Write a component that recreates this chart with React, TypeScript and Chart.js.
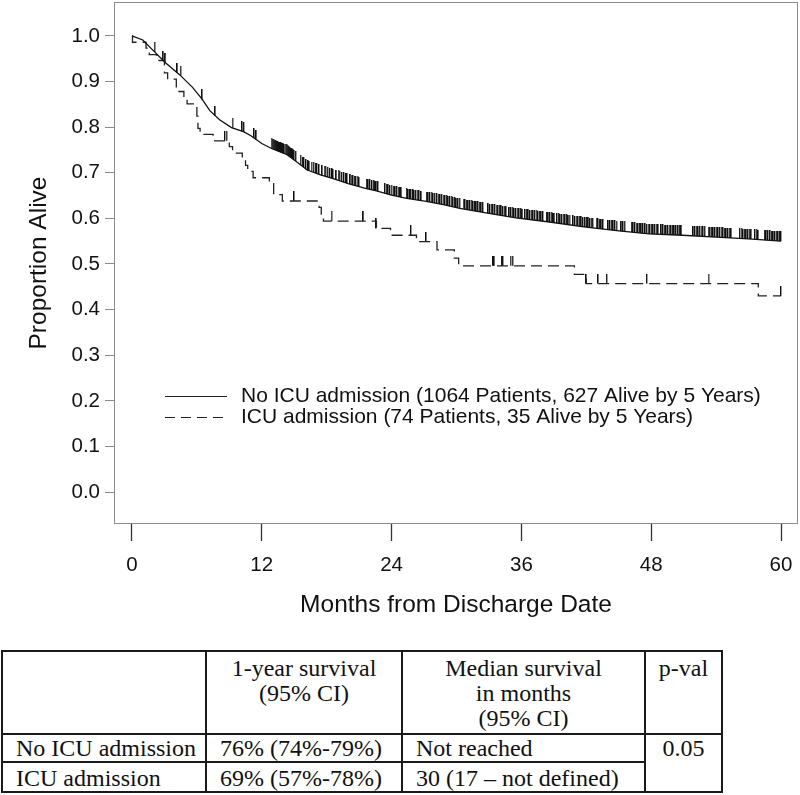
import React, { useEffect, useRef } from "react";
import { Chart, registerables } from "chart.js";

Chart.register(...registerables);

// ---- Data ----
const X_TICKS = [0, 12, 24, 36, 48, 60];
const Y_TICKS = [0, 0.1, 0.2, 0.3, 0.4, 0.5, 0.6, 0.7, 0.8, 0.9, 1.0];

// No ICU admission: Kaplan-Meier estimate (dense, nearly continuous)
const NOICU_T = [0, 1.0, 2.0, 3.1, 4.4, 5.6, 6.5, 7.2, 8.1, 9.2, 10.3, 11.0, 12.0, 13.0, 14.3, 15.0, 16.2, 17.5, 18.6, 20.0, 21.5, 22.6, 24.0, 25.4, 27.2, 28.8, 30.3, 33.0, 35.5, 38.6, 41.6, 44.8, 47.8, 50.9, 54.0, 57.0, 60.0];
const NOICU_S = [1.0, 0.991, 0.967, 0.941, 0.915, 0.887, 0.861, 0.836, 0.816, 0.799, 0.79, 0.781, 0.764, 0.752, 0.74, 0.728, 0.706, 0.695, 0.687, 0.676, 0.666, 0.66, 0.651, 0.644, 0.637, 0.63, 0.622, 0.611, 0.601, 0.592, 0.582, 0.573, 0.566, 0.563, 0.559, 0.555, 0.55];

// ICU admission: Kaplan-Meier step function (time of drop, survival after drop)
const ICU_T = [0, 0.05, 1.3, 1.6, 2.3, 3.0, 3.3, 4.1, 4.8, 5.1, 6.0, 6.1, 6.3, 7.5, 9.0, 9.3, 10.2, 10.5, 10.7, 11.2, 12.7, 13.1, 13.9, 17.3, 17.5, 17.7, 22.6, 23.9, 26.3, 28.2, 29.8, 30.2, 40.9, 42.0, 57.9, 60.0];
const ICU_S = [1.0, 0.986, 0.973, 0.959, 0.946, 0.919, 0.905, 0.878, 0.865, 0.851, 0.824, 0.797, 0.784, 0.77, 0.757, 0.743, 0.73, 0.716, 0.703, 0.689, 0.676, 0.652, 0.638, 0.624, 0.609, 0.594, 0.578, 0.563, 0.549, 0.531, 0.513, 0.496, 0.477, 0.457, 0.43, 0.43];

// Censoring times (months)
const NOICU_CENSOR = [
  2.1, 2.9, 3.1, 4.2, 4.5, 6.5, 7.7, 9.3, 10.2, 10.35, 11.3, 11.5,
  12.9, 13.0, 13.1, 13.2, 13.3, 13.4, 13.5, 13.6, 13.7, 13.8, 13.9, 14.0, 14.1, 14.2, 14.3, 14.4, 14.5, 14.6, 14.7, 14.8, 14.9, 15.0, 15.15,
  15.6, 15.8, 15.9, 16.1, 16.3, 16.4, 16.6, 16.8, 17.0, 17.1, 17.3, 17.6, 17.8, 17.9, 18.1, 18.3, 18.5, 18.6, 18.9, 19.1, 19.2, 19.4, 19.6, 19.8, 19.9,
  20.2, 20.3, 20.45, 20.6, 20.7, 20.85, 21.0,
  21.7, 21.85, 22.0,
  22.2, 22.35, 22.5, 22.6, 22.75,
  23.4, 23.55, 23.7, 23.85, 24.0,
  24.2, 24.35, 24.5, 24.65, 24.8, 24.9,
  25.4, 25.55, 25.7, 25.8, 26.0, 26.1, 26.25, 26.4, 26.55, 26.75,
  27.25, 27.4, 27.55, 27.7, 27.85, 28.0,
  28.2, 28.35, 28.5, 28.65, 28.8, 28.95, 29.1, 29.25, 29.4,
  29.55, 29.7, 29.85, 30.0, 30.15, 30.3,
  30.65, 30.8, 30.95, 31.1, 31.25, 31.4, 31.55, 31.7,
  31.85, 32.0, 32.15, 32.3, 32.45,
  32.95, 33.1, 33.25, 33.4, 33.55, 33.7, 33.85, 34.0, 34.15, 34.3, 34.45, 34.6,
  34.9, 35.05, 35.2, 35.35, 35.5, 35.65, 35.8, 35.95, 36.1,
  36.35, 36.5, 36.65, 36.8, 36.95, 37.1, 37.25, 37.4, 37.55, 37.7, 37.85, 38.0,
  38.35, 38.5, 38.65, 38.8, 38.95, 39.05,
  39.3, 39.45, 39.6, 39.75, 39.9, 40.05, 40.2, 40.35, 40.45,
  40.8, 40.95, 41.1, 41.25, 41.4, 41.55, 41.7,
  41.9, 42.05, 42.2, 42.35, 42.5, 42.6,
  42.95, 43.1, 43.25, 43.4, 43.55,
  44.05, 44.2, 44.35, 44.5, 44.65, 44.8,
  45.25, 45.4, 45.55,
  46.2, 46.35, 46.5, 46.65, 46.8, 46.95, 47.1, 47.25,
  47.45, 47.6, 47.75, 47.9, 48.05, 48.2, 48.35, 48.5, 48.65,
  48.95, 49.1, 49.25, 49.4, 49.55, 49.7, 49.85, 50.0, 50.15, 50.3,
  50.5, 50.65, 50.8,
  51.9, 52.05, 52.2, 52.35, 52.5, 52.65, 52.8, 52.95,
  53.3, 53.45, 53.6, 53.75, 53.9, 54.05,
  54.2, 54.35, 54.5, 54.65, 54.8, 54.95, 55.1, 55.25, 55.4,
  56.2, 56.35, 56.5, 56.65, 56.8, 56.95, 57.1, 57.25,
  57.6, 57.75, 57.9,
  58.5, 58.65, 58.8,
  59.0, 59.15, 59.3, 59.45, 59.6, 59.75, 59.9, 60.0,
];
const ICU_CENSOR = [8.6, 8.75, 15.0, 18.45, 21.4, 22.6, 25.8, 27.2, 33.4, 33.5, 34.2, 34.3, 35.0, 35.2, 42.0, 43.1, 43.9, 47.6, 53.3, 60.0];

const LEGEND_LABELS = [
  "No ICU admission (1064 Patients, 627 Alive by 5 Years)",
  "ICU admission (74 Patients, 35 Alive by 5 Years)",
];
const X_TITLE = "Months from Discharge Date";
const Y_TITLE = "Proportion Alive";

const TABLE_HEAD = ["", "1-year survival\n(95% CI)", "Median survival\nin months\n(95% CI)", "p-val"];
const TABLE_ROWS = [
  ["No ICU admission", "76% (74%-79%)", "Not reached"],
  ["ICU admission", "69% (57%-78%)", "30 (17 – not defined)"],
];
const P_VALUE = "0.05";

// ---- helpers ----
function interp(ts: number[], ss: number[], t: number) {
  for (let i = 1; i < ts.length; i++) {
    if (t <= ts[i]) {
      const f = (t - ts[i - 1]) / (ts[i] - ts[i - 1]);
      return ss[i - 1] + f * (ss[i] - ss[i - 1]);
    }
  }
  return ss[ss.length - 1];
}
function stepAt(ts: number[], ss: number[], t: number) {
  let v = ss[0];
  for (let i = 0; i < ts.length; i++) if (ts[i] <= t) v = ss[i];
  return v;
}
function makeTick(h: number) {
  const c = document.createElement("canvas");
  c.width = 2;
  c.height = h * 2;
  const g = c.getContext("2d")!;
  g.fillStyle = "#111";
  g.fillRect(0, 0, 1, h);
  g.fillStyle = "rgba(17,17,17,0.4)";
  g.fillRect(1, 0, 1, h);
  return c;
}

const SANS = '"Liberation Sans", Arial, sans-serif';

const boxPlugin = {
  id: "box",
  afterDatasetsDraw(chart: any) {
    const { ctx, chartArea: a } = chart;
    ctx.save();
    ctx.strokeStyle = "#8a8a8a";
    ctx.lineWidth = 1;
    ctx.strokeRect(a.left + 0.5, a.top + 0.5, a.right - a.left - 1, a.bottom - a.top - 1);
    ctx.restore();
  },
};

const legendPlugin = {
  id: "kmLegend",
  afterDraw(chart: any) {
    const { ctx } = chart;
    const rows = [
      { y: 396, dash: [] as number[] },
      { y: 417, dash: [10, 6] },
    ];
    ctx.save();
    rows.forEach((r, i) => {
      ctx.beginPath();
      ctx.setLineDash(r.dash);
      ctx.strokeStyle = "#222";
      ctx.lineWidth = 1.2;
      ctx.moveTo(165, r.y + 0.5);
      ctx.lineTo(227, r.y + 0.5);
      ctx.stroke();
      ctx.setLineDash([]);
      ctx.fillStyle = "#111";
      ctx.font = `21px ${SANS}`;
      ctx.textBaseline = "middle";
      ctx.textAlign = "left";
      ctx.fillText(LEGEND_LABELS[i], 241, r.y);
    });
    ctx.restore();
  },
};

function KMChart() {
  const ref = useRef<HTMLCanvasElement | null>(null);
  useEffect(() => {
    if (!ref.current) return;
    const tick = makeTick(10);
    const chart = new Chart(ref.current, {
      type: "line",
      data: {
        datasets: [
          {
            label: "No ICU admission",
            data: NOICU_T.map((t, i) => ({ x: t, y: NOICU_S[i] })),
            borderColor: "#111",
            borderWidth: 1.3,
            pointRadius: 0,
            tension: 0,
            fill: false,
          },
          {
            label: "ICU admission",
            data: ICU_T.map((t, i) => ({ x: t, y: ICU_S[i] })),
            borderColor: "#222",
            borderWidth: 1.3,
            borderDash: [11, 6],
            stepped: true,
            pointRadius: 0,
            fill: false,
          },
          {
            label: "No ICU censored",
            data: NOICU_CENSOR.map((t) => ({ x: t, y: interp(NOICU_T, NOICU_S, t) })),
            showLine: false,
            pointStyle: tick as any,
            pointRadius: 1,
            pointHoverRadius: 1,
          },
          {
            label: "ICU censored",
            data: ICU_CENSOR.map((t) => ({ x: t, y: stepAt(ICU_T, ICU_S, t) })),
            showLine: false,
            pointStyle: tick as any,
            pointRadius: 1,
            pointHoverRadius: 1,
          },
        ],
      },
      options: {
        animation: false,
        responsive: false,
        maintainAspectRatio: false,
        events: [],
        layout: { padding: { left: 0, right: 2, top: 0, bottom: 0 } },
        plugins: { legend: { display: false }, tooltip: { enabled: false } },
        scales: {
          x: {
            type: "linear",
            min: -1.66,
            max: 61.57,
            afterBuildTicks: (s: any) => {
              s.ticks = X_TICKS.map((v) => ({ value: v }));
            },
            afterFit: (s: any) => {
              s.height = 116;
              s.paddingLeft = 0;
              s.paddingRight = 0;
            },
            grid: { drawOnChartArea: false, drawTicks: true, tickLength: 17, tickColor: "#333", tickWidth: 1.3 },
            border: { display: false },
            ticks: {
              font: { family: SANS, size: 20.5 },
              color: "#111",
              padding: 12,
              maxRotation: 0,
              autoSkip: false,
              callback: (v: any) => String(v),
            },
            title: {
              display: true,
              text: X_TITLE,
              font: { family: SANS, size: 24.5 },
              color: "#111",
              padding: { top: 0, bottom: 20 },
            },
          },
          y: {
            type: "linear",
            min: -0.0699,
            max: 1.0742,
            afterBuildTicks: (s: any) => {
              s.ticks = Y_TICKS.map((v) => ({ value: v }));
            },
            afterFit: (s: any) => {
              s.width = 114;
              s.paddingTop = 0;
              s.paddingBottom = 0;
            },
            grid: { drawOnChartArea: false, drawTicks: true, tickLength: 9, tickColor: "#8a8a8a", tickWidth: 1 },
            border: { display: false },
            ticks: {
              font: { family: SANS, size: 20.5 },
              color: "#111",
              padding: 5,
              autoSkip: false,
              callback: (v: any) => Number(v).toFixed(1),
            },
            title: {
              display: true,
              text: Y_TITLE,
              font: { family: SANS, size: 24.5 },
              color: "#111",
              padding: { top: 25, bottom: 0 },
            },
          },
        },
      } as any,
      plugins: [boxPlugin, legendPlugin],
    });
    return () => chart.destroy();
  }, []);
  return <canvas ref={ref} width={800} height={640} style={{ position: "absolute", left: 0, top: 0, width: 800, height: 640 }} />;
}

const border = "2px solid #1a1a1a";

function SurvivalTable() {
  const head: React.CSSProperties = {
    border,
    verticalAlign: "top",
    textAlign: "center",
    lineHeight: "25px",
    padding: "4px 0 0 0",
    whiteSpace: "pre-line",
  };
  const body: React.CSSProperties = {
    border,
    verticalAlign: "bottom",
    textAlign: "left",
    lineHeight: "26px",
    padding: "0 0 0 13px",
    whiteSpace: "nowrap",
  };
  return (
    <table
      style={{
        position: "absolute",
        left: 1,
        top: 650,
        width: 720,
        borderCollapse: "collapse",
        tableLayout: "fixed",
        fontFamily: '"Liberation Serif", "Times New Roman", serif',
        fontSize: 24,
        color: "#111",
      }}
    >
      <colgroup>
        <col style={{ width: 204 }} />
        <col style={{ width: 196 }} />
        <col style={{ width: 243 }} />
        <col style={{ width: 77 }} />
      </colgroup>
      <tbody>
        <tr style={{ height: 83 }}>
          {TABLE_HEAD.map((h, i) => (
            <td key={i} style={head}>{h}</td>
          ))}
        </tr>
        {TABLE_ROWS.map((row, r) => (
          <tr key={r} style={{ height: r === 0 ? 26 : 30 }}>
            {row.map((c, i) => (
              <td key={i} style={body}>{c}</td>
            ))}
            {r === 0 ? (
              <td rowSpan={2} style={{ ...body, verticalAlign: "top", textAlign: "center", padding: 0 }}>{P_VALUE}</td>
            ) : null}
          </tr>
        ))}
      </tbody>
    </table>
  );
}

export default function App() {
  return (
    <div style={{ position: "absolute", left: 0, top: 0, width: 800, height: 795, background: "#fff", overflow: "hidden" }}>
      <KMChart />
      <SurvivalTable />
    </div>
  );
}
